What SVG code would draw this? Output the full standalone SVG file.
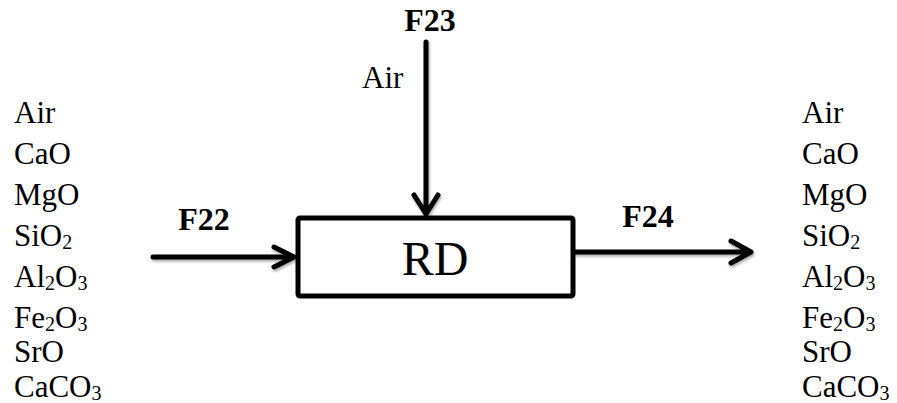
<svg xmlns="http://www.w3.org/2000/svg" width="897" height="403" viewBox="0 0 897 403">
<style>
.t{font-family:"Liberation Serif","Times New Roman",serif;font-size:31px;fill:#000}
.b{font-family:"Liberation Serif","Times New Roman",serif;font-size:32px;font-weight:bold;fill:#000}
.s{font-size:20px}
.ln{stroke:#000;stroke-width:5;fill:none;stroke-linecap:round;stroke-linejoin:round}
</style>
<defs>
<filter id="sh" x="-10%" y="-50%" width="120%" height="200%">
<feGaussianBlur in="SourceAlpha" stdDeviation="1.5"/>
<feOffset dx="1" dy="2" result="o"/>
<feComponentTransfer><feFuncA type="linear" slope="0.35"/></feComponentTransfer>
<feMerge><feMergeNode/><feMergeNode in="SourceGraphic"/></feMerge>
</filter>
</defs>
<g id="connectors" class="ln" filter="url(#sh)">
<path d="M153,257 H294 M274,247 L294,257 L274,267"/>
<path d="M426,42 V214 M414,195 L426,214 L438,195"/>
<path d="M575,252 H751 M731,241 L751,252 L731,263"/>
</g>
<g id="RD">
<rect x="298" y="218" width="275" height="78" rx="2" class="ln"/>
<text x="435" y="275" text-anchor="middle" style="font-family:'Liberation Serif','Times New Roman',serif;font-size:48px">RD</text>
</g>
<g id="labels">
<text class="b" x="430" y="31" text-anchor="middle">F23</text>
<text class="t" x="362" y="88">Air</text>
<text class="b" x="204" y="230" text-anchor="middle">F22</text>
<text class="b" x="648" y="227" text-anchor="middle">F24</text>
</g>
<g id="inputs" class="t">
<text x="14" y="123">Air</text>
<text x="14" y="164">CaO</text>
<text x="14" y="205">MgO</text>
<text x="14" y="246">SiO<tspan class="s" dy="3">2</tspan></text>
<text x="14" y="287">Al<tspan class="s" dy="3">2</tspan><tspan dy="-3">O</tspan><tspan class="s" dy="3">3</tspan></text>
<text x="14" y="328">Fe<tspan class="s" dy="3">2</tspan><tspan dy="-3">O</tspan><tspan class="s" dy="3">3</tspan></text>
<text x="14" y="362">SrO</text>
<text x="14" y="397">CaCO<tspan class="s" dy="3">3</tspan></text>
</g>
<g id="outputs" class="t">
<text x="802" y="123">Air</text>
<text x="802" y="164">CaO</text>
<text x="802" y="205">MgO</text>
<text x="802" y="246">SiO<tspan class="s" dy="3">2</tspan></text>
<text x="802" y="287">Al<tspan class="s" dy="3">2</tspan><tspan dy="-3">O</tspan><tspan class="s" dy="3">3</tspan></text>
<text x="802" y="328">Fe<tspan class="s" dy="3">2</tspan><tspan dy="-3">O</tspan><tspan class="s" dy="3">3</tspan></text>
<text x="802" y="362">SrO</text>
<text x="802" y="397">CaCO<tspan class="s" dy="3">3</tspan></text>
</g>
</svg>
